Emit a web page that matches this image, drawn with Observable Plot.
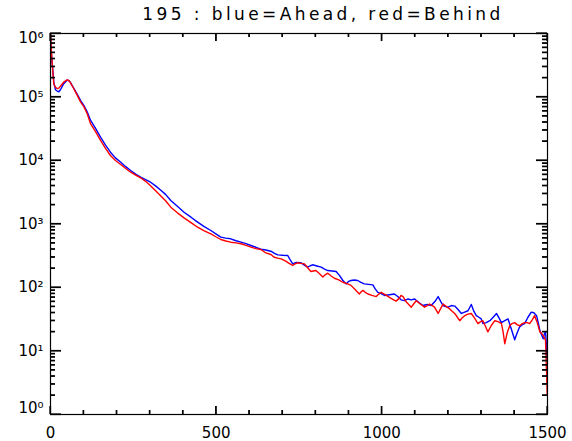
<!DOCTYPE html>
<html><head><meta charset="utf-8">
<script src="https://cdn.jsdelivr.net/npm/d3@7"></script>
<script src="https://cdn.jsdelivr.net/npm/@observablehq/plot@0.6"></script>
<style>
body{margin:0;background:#fff}
svg{display:block}
</style>
</head><body><div id="chart"></div>
<script>
const titleText = "195 : blue=Ahead, red=Behind";

// [x, value] pairs
const aheadPoints = [[0,1.0e6],[2,5.5e5],[5,3.5e5],[8,2.3e5],[10,1.7e5],[15,1.3e5],[20,1.24e5],[25,1.21e5],[30,1.3e5],[40,1.62e5],[50,1.84e5],[55,1.82e5],[60,1.7e5],[70,1.38e5],[80,1.12e5],[91,8.8e4],[101,7.3e4],[111,5.8e4],[121,4.27e4],[136,3.2e4],[151,2.33e4],[166,1.75e4],[181,1.35e4],[196,1.1e4],[212,9.4e3],[227,8.0e3],[242,6.96e3],[257,6.1e3],[272,5.46e3],[287,5.0e3],[302,4.55e3],[318,3.95e3],[333,3.4e3],[348,2.9e3],[363,2.34e3],[383,1.9e3],[403,1.53e3],[424,1.28e3],[444,1.07e3],[464,910],[484,790],[499,700],[514,620],[529,600],[544,585],[560,545],[575,517],[590,490],[605,459],[620,430],[635,400],[650,390],[665,373],[676,345],[686,327],[701,322],[716,319],[724,270],[731,236],[741,248],[756,245],[766,225],[776,209],[784,220],[791,228],[804,218],[817,209],[827,195],[837,185],[850,182],[862,179],[872,155],[882,130],[892,114],[900,125],[907,129],[917,131],[927,129],[937,120],[947,114],[960,112],[973,110],[980,95],[988,84],[998,80],[1008,75],[1023,77],[1038,79],[1048,72],[1058,64],[1068,62],[1079,66],[1089,64],[1099,66],[1112,58],[1124,52],[1137,54],[1149,52],[1160,60],[1170,72],[1178,60],[1185,52],[1192,50],[1200,49],[1210,52],[1220,51],[1230,45],[1240,39],[1250,41],[1260,43],[1270,54],[1278,42],[1285,36],[1293,34],[1300,32],[1305,27],[1315,28],[1326,30],[1336,34],[1346,39],[1354,33],[1361,28],[1371,30],[1381,32],[1391,22],[1401,15],[1408,19],[1416,24],[1424,26],[1431,27],[1441,34],[1451,41],[1459,40],[1467,36],[1472,28],[1477,21],[1482,18],[1487,15.6],[1491,19],[1494,20],[1497,12],[1499,7]];

const behindPoints = [[0,1.1e6],[2,6e5],[5,3.5e5],[8,2.1e5],[10,1.6e5],[15,1.42e5],[20,1.36e5],[25,1.38e5],[30,1.48e5],[40,1.72e5],[50,1.86e5],[55,1.82e5],[60,1.68e5],[70,1.36e5],[80,1.08e5],[91,8.3e4],[101,7.0e4],[111,5.4e4],[121,3.78e4],[136,2.85e4],[151,2.07e4],[166,1.55e4],[181,1.2e4],[196,1.0e4],[212,8.65e3],[227,7.5e3],[242,6.54e3],[257,5.9e3],[272,5.34e3],[287,4.7e3],[302,4.0e3],[318,3.3e3],[333,2.75e3],[348,2.3e3],[363,1.84e3],[383,1.5e3],[403,1.25e3],[424,1.05e3],[444,890],[464,780],[484,700],[499,630],[514,570],[529,540],[544,517],[560,505],[575,488],[590,460],[605,432],[620,410],[635,397],[650,350],[665,331],[675,300],[686,290],[696,283],[710,260],[720,240],[731,222],[738,235],[746,245],[756,240],[766,236],[776,205],[786,179],[793,182],[801,185],[812,165],[822,146],[830,160],[837,168],[847,152],[857,140],[870,132],[882,121],[895,115],[907,108],[920,92],[932,79],[937,85],[943,90],[950,84],[958,79],[970,75],[983,72],[990,78],[998,84],[1010,77],[1023,70],[1033,65],[1043,61],[1053,68],[1058,75],[1064,72],[1074,59],[1084,52],[1089,49],[1097,56],[1104,62],[1116,55],[1129,49],[1137,52],[1144,55],[1152,52],[1159,49],[1170,39],[1177,46],[1185,55],[1195,50],[1205,46],[1213,42],[1220,39],[1228,34],[1235,30],[1242,33],[1250,36],[1260,38],[1270,39],[1280,33],[1290,27],[1298,29],[1305,30],[1312,25],[1320,20],[1330,25],[1341,30],[1351,29],[1361,27],[1366,20],[1371,13],[1378,19],[1386,25],[1393,27],[1401,28],[1408,26],[1416,25],[1424,27],[1431,28],[1439,28],[1446,27],[1454,31],[1461,36],[1469,28],[1477,20],[1482,19],[1487,17.5],[1491,16],[1494,14.6],[1497,4.9],[1499,2.1]];

const xMajorTicks = [0, 500, 1000, 1500];
const xMinorTicks = [100, 200, 300, 400, 600, 700, 800, 900, 1100, 1200, 1300, 1400];
const xTickLabels = ["0", "500", "1000", "1500"];
const yMajorTicks = [1, 10, 100, 1000, 10000, 100000, 1000000];
const yTickLabels = ["10⁰", "10¹", "10²", "10³", "10⁴", "10⁵", "10⁶"];
const yMinorTicks = [2,3,4,5,6,7,8,9,20,30,40,50,60,70,80,90,200,300,400,500,600,700,800,900,2000,3000,4000,5000,6000,7000,8000,9000,20000,30000,40000,50000,60000,70000,80000,90000,200000,300000,400000,500000,600000,700000,800000,900000];

const ahead = aheadPoints.map(([x, y]) => ({x, y}));
const behind = behindPoints.map(([x, y]) => ({x, y}));
const yLabelData = yMajorTicks.map((v, i) => ({v, label: yTickLabels[i]}));
const xLabelData = xMajorTicks.map((v, i) => ({v, label: xTickLabels[i]}));

const W = 572, H = 441, mL = 50, mR = 25, mT = 33, mB = 27;
const plotW = W - mL - mR, plotH = H - mT - mB;
const tk = {stroke: "#000", strokeWidth: 1.2};

const chart = Plot.plot({
  width: W,
  height: H,
  marginLeft: mL,
  marginRight: mR,
  marginTop: mT,
  marginBottom: mB,
  style: {fontFamily: "DejaVu Sans", fontSize: "15px", background: "#fff", color: "#000"},
  x: {domain: [0, 1500], axis: null},
  y: {type: "log", domain: [1, 1e6], axis: null},
  marks: [
    Plot.line(ahead, {x: "x", y: "y", stroke: "#0000ff", strokeWidth: 1.4, clip: true}),
    Plot.line(behind, {x: "x", y: "y", stroke: "#ff0000", strokeWidth: 1.4, clip: true}),
    Plot.frame({stroke: "#000", strokeWidth: 1.2}),
    Plot.ruleX(xMajorTicks, {...tk, insetTop: plotH - 8}),
    Plot.ruleX(xMinorTicks, {...tk, insetTop: plotH - 4}),
    Plot.ruleX(xMajorTicks, {...tk, insetBottom: plotH - 8}),
    Plot.ruleX(xMinorTicks, {...tk, insetBottom: plotH - 4}),
    Plot.ruleY(yMajorTicks, {...tk, insetRight: plotW - 11}),
    Plot.ruleY(yMinorTicks, {...tk, insetRight: plotW - 5}),
    Plot.ruleY(yMajorTicks, {...tk, insetLeft: plotW - 11}),
    Plot.ruleY(yMinorTicks, {...tk, insetLeft: plotW - 5}),
    Plot.text(xLabelData, {x: "v", text: "label", frameAnchor: "bottom", lineAnchor: "middle", dy: 19, fontSize: 15}),
    Plot.text(yLabelData.slice(1, 6), {x: () => 0, y: "v", text: "label", dx: -7, textAnchor: "end", fontSize: 15}),
    Plot.text(yLabelData.slice(0, 1), {x: () => 0, y: "v", text: "label", dx: -7, dy: -6, textAnchor: "end", fontSize: 15}),
    Plot.text(yLabelData.slice(6), {x: () => 0, y: "v", text: "label", dx: -7, dy: 5, textAnchor: "end", fontSize: 15})
  ]
});

document.getElementById("chart").appendChild(chart);

// inward ticks on all four sides, positioned through Plot's own scales
const sx = chart.scale("x"), sy = chart.scale("y");
const frameTop = mT, frameBottom = H - mB, frameLeft = mL, frameRight = W - mR;
const tickLayer = d3.select(chart).append("g").attr("stroke", "#000").attr("stroke-width", 1.2);
function xTick(v, len) {
  const px = sx.apply(v);
  tickLayer.append("line").attr("x1", px).attr("x2", px).attr("y1", frameBottom).attr("y2", frameBottom - len);
  tickLayer.append("line").attr("x1", px).attr("x2", px).attr("y1", frameTop).attr("y2", frameTop + len);
}
function yTick(v, len) {
  const py = sy.apply(v);
  tickLayer.append("line").attr("x1", frameLeft).attr("x2", frameLeft + len).attr("y1", py).attr("y2", py);
  tickLayer.append("line").attr("x1", frameRight).attr("x2", frameRight - len).attr("y1", py).attr("y2", py);
}
xMajorTicks.forEach(v => xTick(v, 8));
xMinorTicks.forEach(v => xTick(v, 4));
yMajorTicks.forEach(v => yTick(v, 11));
yMinorTicks.forEach(v => yTick(v, 5));

d3.select(chart).append("text")
  .attr("x", 323)
  .attr("y", 20)
  .attr("text-anchor", "middle")
  .attr("font-family", "DejaVu Sans")
  .attr("font-size", 17)
  .attr("fill", "#000")
  .style("letter-spacing", "3.4px")
  .text(titleText);
</script>
</body></html>
